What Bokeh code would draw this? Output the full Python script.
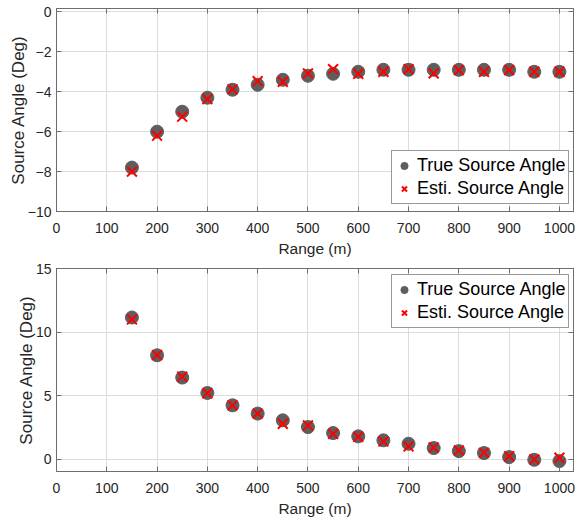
from bokeh.plotting import figure
from bokeh.layouts import column
from bokeh.models import Range1d, LinearAxis, Legend, LegendItem, FixedTicker
from bokeh.embed import file_html
from bokeh.resources import INLINE

# ---- data ----
ranges = [150, 200, 250, 300, 350, 400, 450, 500, 550, 600, 650, 700, 750, 800, 850, 900, 950, 1000]

top_true = [-7.8, -6.0, -5.0, -4.3, -3.9, -3.65, -3.4, -3.2, -3.1, -3.0, -2.9, -2.9, -2.9, -2.9, -2.9, -2.9, -3.0, -3.0]
top_esti = [-8.0, -6.2, -5.25, -4.37, -3.88, -3.47, -3.5, -3.08, -2.87, -3.1, -3.0, -2.87, -3.08, -2.92, -3.0, -2.92, -3.0, -3.0]

bot_true = [11.15, 8.18, 6.43, 5.22, 4.25, 3.6, 3.07, 2.54, 2.07, 1.81, 1.5, 1.23, 0.89, 0.65, 0.5, 0.18, -0.03, -0.13]
bot_esti = [11.0, 8.2, 6.5, 5.2, 4.25, 3.6, 2.8, 2.67, 2.0, 1.78, 1.41, 1.02, 0.94, 0.71, 0.52, 0.24, 0.0, 0.13]

x_ticks = [0, 100, 200, 300, 400, 500, 600, 700, 800, 900, 1000]
top_y_ticks = [-10, -8, -6, -4, -2, 0]
bot_y_ticks = [0, 5, 10, 15]

FONT = "Liberation Sans"
TXT = "#262626"
FRAME = "#6e6e6e"
GRID = "#dcdcdc"


def style_axis(ax, ticks, show_labels=True):
    ax.ticker = FixedTicker(ticks=ticks)
    ax.axis_line_color = FRAME
    ax.major_tick_line_color = FRAME
    ax.major_tick_in = 5
    ax.major_tick_out = 0
    ax.minor_tick_line_color = None
    ax.major_label_text_font = FONT
    ax.major_label_text_color = TXT
    ax.major_label_text_font_size = "14px" if show_labels else "0px"
    ax.axis_label_text_font = FONT
    ax.axis_label_text_color = TXT
    ax.axis_label_text_font_style = "normal"
    if not show_labels:
        ax.major_label_standoff = 0


def make_fig(true_vals, esti_vals, yticks, yr, height, border_top, border_bottom, legend_loc):
    p = figure(width=586, height=height, output_backend="svg", toolbar_location=None,
               x_range=Range1d(0, 1028), y_range=Range1d(*yr),
               min_border_left=56, min_border_right=13, min_border_top=border_top,
               min_border_bottom=border_bottom)
    p.outline_line_color = FRAME
    p.background_fill_color = "white"
    p.border_fill_color = "white"

    style_axis(p.xaxis[0], x_ticks)
    style_axis(p.yaxis[0], yticks)
    p.xaxis[0].axis_label = "Range (m)"
    p.xaxis[0].axis_label_text_font_size = "15.5px"
    p.xaxis[0].axis_label_standoff = 4
    p.xaxis[0].major_label_standoff = 11
    p.yaxis[0].axis_label = "Source Angle (Deg)"
    p.yaxis[0].axis_label_text_font_size = "17px"
    p.yaxis[0].axis_label_standoff = -3
    p.yaxis[0].major_label_standoff = 5

    ax_r = LinearAxis()
    style_axis(ax_r, yticks, show_labels=False)
    p.add_layout(ax_r, "right")
    ax_t = LinearAxis()
    style_axis(ax_t, x_ticks, show_labels=False)
    p.add_layout(ax_t, "above")

    p.xgrid.ticker = FixedTicker(ticks=x_ticks)
    p.ygrid.ticker = FixedTicker(ticks=yticks)
    p.xgrid.grid_line_color = GRID
    p.ygrid.grid_line_color = GRID

    r1 = p.scatter(ranges, true_vals, marker="circle", size=13,
                   fill_color="#5e5e5e", line_color="#5e5e5e")
    r2 = p.scatter(ranges, esti_vals, marker="x", size=14,
                   line_color="#ff0000", line_width=2)

    leg = Legend(items=[LegendItem(label="True Source Angle", renderers=[r1]),
                        LegendItem(label="Esti. Source Angle", renderers=[r2])],
                 location=legend_loc)
    leg.label_text_font = FONT
    leg.label_text_font_size = "18px"
    leg.label_text_color = "#000000"
    leg.border_line_color = "#333333"
    leg.border_line_width = 1
    leg.background_fill_color = "white"
    leg.background_fill_alpha = 1
    leg.padding = 3
    leg.spacing = 0
    leg.margin = 0
    leg.glyph_width = 18
    leg.glyph_height = 23
    leg.label_height = 23
    leg.label_standoff = 4
    p.add_layout(leg, "center")
    return p


p1 = make_fig(top_true, top_esti, top_y_ticks, (-10, 0.17), 259, 8, 40, (335, 7))
p2 = make_fig(bot_true, bot_esti, bot_y_ticks, (-0.95, 15), 265, 9, 53, (335, 143))

layout = column(p1, p2, spacing=0)

open("out.html", "w").write(file_html(layout, INLINE))
